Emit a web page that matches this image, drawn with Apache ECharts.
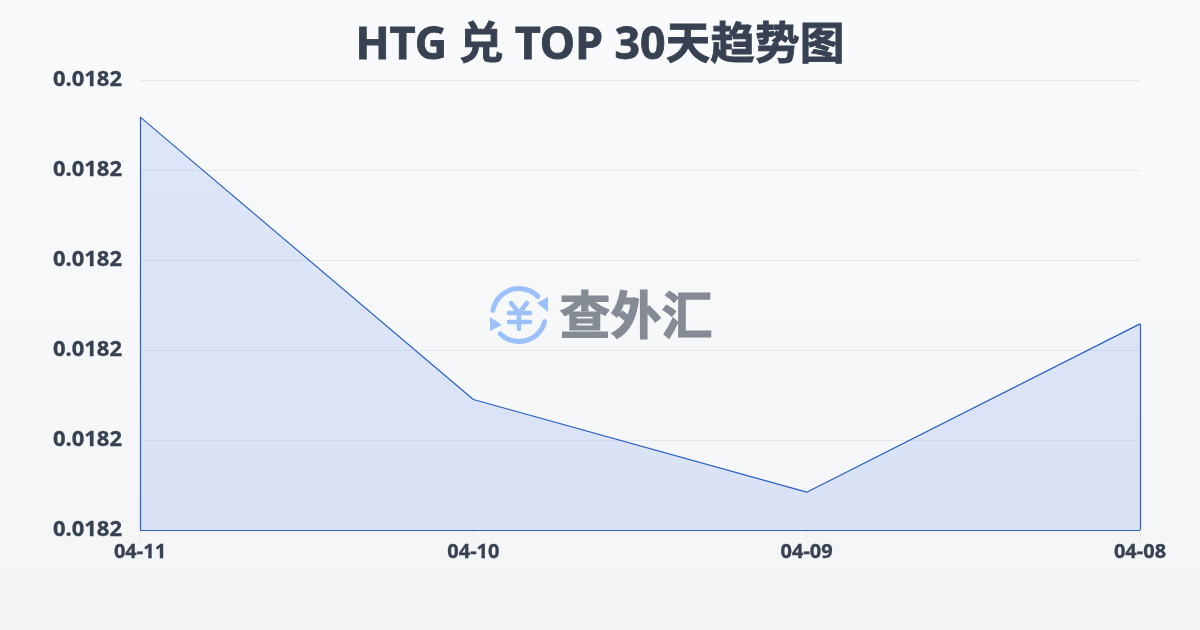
<!DOCTYPE html>
<html><head><meta charset="utf-8">
<style>html,body{margin:0;padding:0;width:1200px;height:630px;overflow:hidden}#c{width:1200px;height:630px}</style>
<script src="https://cdn.jsdelivr.net/npm/echarts@6/dist/echarts.min.js"></script>
</head><body><div id="c"></div>
<script>
const titleText = 'HTG 兑 TOP 30天趋势图';
const categories = ['04-11','04-10','04-09','04-08'];
const values = [0.0182459,0.0182145,0.0182042,0.0182229];
const axisMin = 0.0182, axisMax = 0.01825, axisStep = 0.00001;
const font = '"Noto Sans","Noto Sans CJK SC",sans-serif';
const dark = '#374151', lineColor = '#2b5fc2', logo = '#9cc0fa', markText = '#858b95';
const chart = echarts.init(document.getElementById('c'),null,{renderer:'canvas'});
const edge = {lineStyle:{color:lineColor,width:1.2,type:'solid'}};
chart.setOption({
  animation:false,
  backgroundColor:{type:'linear',x:0,y:0,x2:0,y2:1,colorStops:[{offset:0,color:'#f8fafc'},{offset:1,color:'#f3f5f7'}]},
  title:{text:titleText,left:'center',top:19,textStyle:{fontFamily:font,fontSize:44.7,fontWeight:'bold',color:dark,textBorderColor:dark,textBorderWidth:0.8}},
  grid:{left:140,right:60,top:80,bottom:100},
  xAxis:{type:'category',boundaryGap:false,data:categories,
    axisLine:{show:false},
    axisTick:{show:true,length:10,lineStyle:{color:'#e8eaee'}},
    axisLabel:{fontFamily:font,fontSize:20,fontWeight:'bold',color:dark,margin:12,showMinLabel:true,showMaxLabel:true,interval:0,textBorderColor:dark,textBorderWidth:0.3},
    splitLine:{show:false}},
  yAxis:{type:'value',min:axisMin,max:axisMax,interval:axisStep,
    axisLine:{show:false},axisTick:{show:false},
    axisLabel:{fontFamily:font,fontSize:22,fontWeight:'bold',color:dark,margin:18,formatter:v=>v.toFixed(4),textBorderColor:dark,textBorderWidth:0.3},
    splitLine:{show:true,lineStyle:{color:'#e5e7eb',width:1}}},
  series:[{type:'line',data:values,symbol:'none',smooth:false,
    lineStyle:{color:lineColor,width:1.2},
    areaStyle:{origin:'start',color:'rgba(37,99,235,0.18)'},
    markLine:{silent:true,symbol:'none',label:{show:false},animation:false,data:[
      [{coord:[categories[0],values[0]],...edge},{coord:[categories[0],axisMin]}],
      [{coord:[categories[0],axisMin],...edge},{coord:[categories[3],axisMin]}],
      [{coord:[categories[3],axisMin],...edge},{coord:[categories[3],values[3]]}]
    ]}
  }],
  graphic:[
    {type:'group',left:490,top:286,z:100,children:[
      {type:'arc',shape:{cx:30,cy:29,r:26.5,startAngle:-2.96,endAngle:-0.78},style:{stroke:logo,lineWidth:5,fill:null,lineCap:'round'}},
      {type:'arc',shape:{cx:30,cy:29,r:26.5,startAngle:0.25,endAngle:2.36},style:{stroke:logo,lineWidth:5,fill:null,lineCap:'round'}},
      {type:'polygon',shape:{points:[[48,17],[59,11],[59,26]]},style:{fill:logo}},
      {type:'polygon',shape:{points:[[1,31],[1,45],[13,39]]},style:{fill:logo}},
      {type:'polyline',shape:{points:[[22,17],[30,27],[38,17]]},style:{stroke:logo,lineWidth:4.5,fill:null,lineCap:'round',lineJoin:'round'}},
      {type:'line',shape:{x1:30,y1:27,x2:30,y2:43},style:{stroke:logo,lineWidth:4.5,lineCap:'round'}},
      {type:'line',shape:{x1:20,y1:27,x2:41,y2:27},style:{stroke:logo,lineWidth:4.5,lineCap:'round'}},
      {type:'line',shape:{x1:20,y1:36,x2:41,y2:36},style:{stroke:logo,lineWidth:4.5,lineCap:'round'}}
    ]},
    {type:'text',left:559,top:289,z:100,style:{text:'查外汇',fontFamily:'"Noto Sans CJK SC"',fontSize:51,fontWeight:'bold',fill:markText,stroke:markText,lineWidth:1.2}}
  ]
});
</script></body></html>
